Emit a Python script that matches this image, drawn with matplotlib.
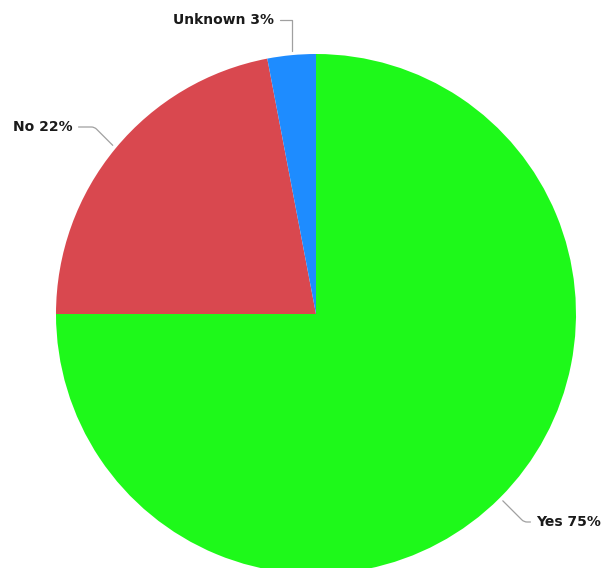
import numpy as np
import matplotlib.pyplot as plt

labels = ['Yes', 'No', 'Unknown']
shares = [75, 22, 3]
colors = ['#1ef91a', '#d9484f', '#1e8cff']

W, H = 603, 568
fig = plt.figure(figsize=(W / 100, H / 100), dpi=100)
ax = fig.add_axes([0, 0, 1, 1])

cx, cy, r = 316, H - 314, 260
wedges, _ = ax.pie(shares, colors=colors, startangle=90, counterclock=False,
                   center=(cx, cy), radius=r, frame=True,
                   wedgeprops=dict(linewidth=0))
ax.set_xlim(0, W)
ax.set_ylim(0, H)
ax.set_aspect('equal')
ax.axis('off')

# label placement (pixel coords from top) and leader styles
label_pos = {'Yes': (536, 522, 'left'), 'No': (73, 127, 'right'), 'Unknown': (274, 20, 'right')}
conn = {'Yes': 'angle,angleA=0,angleB=-45,rad=3',
        'No': 'angle,angleA=0,angleB=-45,rad=3',
        'Unknown': 'angle,angleA=0,angleB=90,rad=0'}

for w, lab, s in zip(wedges, labels, shares):
    ang = np.deg2rad((w.theta1 + w.theta2) / 2)
    ex, ey = cx + r * np.cos(ang), cy + r * np.sin(ang)
    tx, ty, ha = label_pos[lab]
    ax.annotate(f'{lab} {s}%', xy=(ex, ey), xytext=(tx, H - ty),
                ha=ha, va='center', fontsize=10, fontweight='bold', color='#1a1a1a',
                annotation_clip=False,
                arrowprops=dict(arrowstyle='-', color='#a0a0a0', lw=0.9,
                                connectionstyle=conn[lab], shrinkA=2, shrinkB=3))

fig.savefig('out.png', dpi=100)
